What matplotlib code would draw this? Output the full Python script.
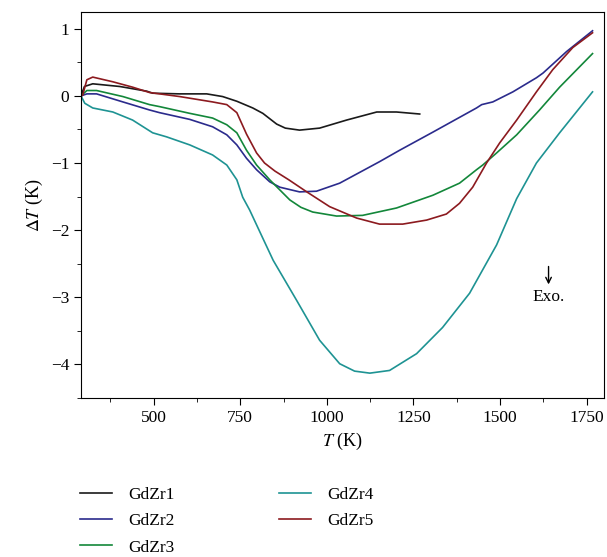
import matplotlib.pyplot as plt
from matplotlib.ticker import MultipleLocator

plt.rcParams['font.family'] = ['Liberation Serif', 'DejaVu Serif']
plt.rcParams['mathtext.fontset'] = 'stix'

# DTA curves: temperature (K) and Delta T (K)
t1 = [290, 300, 324, 402, 480, 497, 575, 653, 699, 740, 786, 815, 835, 855, 880, 921, 979, 1057, 1144,
      1201, 1268]
d1 = [0.0, 0.14, 0.18, 0.14, 0.07, 0.04, 0.03, 0.03, -0.01, -0.08, -0.18, -0.26, -0.34, -0.42, -0.48, -0.51,
      -0.48, -0.36, -0.24, -0.24, -0.27]

t2 = [290, 307, 335, 411, 488, 517, 604, 670, 711, 740, 768, 797, 835, 864, 921, 970, 1037, 1152, 1210,
      1306, 1432, 1447, 1479, 1537, 1605, 1624, 1692, 1767]
d2 = [0.0, 0.03, 0.03, -0.09, -0.21, -0.25, -0.35, -0.46, -0.58, -0.73, -0.93, -1.10, -1.28, -1.36, -1.43,
      -1.42, -1.30, -0.98, -0.81, -0.54, -0.18, -0.13, -0.09, 0.06, 0.27, 0.34, 0.66, 0.97]

t3 = [290, 307, 335, 411, 488, 517, 604, 670, 711, 740, 768, 797, 835, 864, 893, 925, 959, 1028, 1103,
      1201, 1306, 1383, 1432, 1450, 1490, 1548, 1614, 1672, 1767]
d3 = [0.0, 0.08, 0.08, -0.01, -0.13, -0.16, -0.26, -0.33, -0.43, -0.55, -0.81, -1.03, -1.25, -1.40, -1.55,
      -1.66, -1.73, -1.79, -1.78, -1.67, -1.48, -1.30, -1.10, -1.03, -0.85, -0.58, -0.21, 0.13, 0.63]

t4 = [290, 301, 324, 382, 439, 497, 537, 604, 670, 711, 740, 757, 777, 815, 845, 912, 979, 1037, 1080,
      1124, 1181, 1259, 1334, 1412, 1490, 1548, 1605, 1672, 1767]
d4 = [0.0, -0.11, -0.18, -0.24, -0.36, -0.55, -0.61, -0.73, -0.88, -1.03, -1.25, -1.51, -1.70, -2.12,
      -2.45, -3.04, -3.64, -3.99, -4.10, -4.13, -4.09, -3.84, -3.45, -2.94, -2.22, -1.53, -1.00, -0.55, 0.06]

t5 = [290, 295, 307, 324, 382, 439, 488, 575, 670, 711, 740, 768, 797, 820, 850, 890, 942, 1008, 1086,
      1152, 1219, 1288, 1345, 1383, 1421, 1461, 1499, 1548, 1605, 1652, 1710, 1767]
d5 = [0.0, 0.01, 0.24, 0.28, 0.21, 0.13, 0.05, -0.01, -0.09, -0.13, -0.25, -0.57, -0.85, -1.0, -1.12,
      -1.25, -1.43, -1.65, -1.82, -1.91, -1.91, -1.85, -1.76, -1.60, -1.36, -1.00, -0.70, -0.36, 0.06, 0.39,
      0.72, 0.94]

labels = ['GdZr1', 'GdZr2', 'GdZr3', 'GdZr4', 'GdZr5']
colors = ['#1a1a1a', '#2b2b8c', '#13873a', '#1e9393', '#8c1a1f']

fig = plt.figure(figsize=(6.07, 5.57), dpi=100)
ax = fig.add_axes([0.1334, 0.2855, 0.8616, 0.693])

for t, d, lab, c in zip([t1, t2, t3, t4, t5], [d1, d2, d3, d4, d5], labels, colors):
    ax.plot(t, d, color=c, lw=1.2, label=lab)

ax.set_xlim(290, 1800)
ax.set_ylim(-4.5, 1.25)
ax.xaxis.set_major_locator(MultipleLocator(250))
ax.xaxis.set_minor_locator(MultipleLocator(125))
ax.yaxis.set_major_locator(MultipleLocator(1))
ax.yaxis.set_minor_locator(MultipleLocator(0.5))
ax.tick_params(which='both', direction='out', labelsize=12.5)
ax.tick_params(which='major', length=5)
ax.tick_params(which='minor', length=3)
ax.set_xlabel(r'$T$ (K)', fontsize=13)
ax.set_ylabel(r'$\Delta T$ (K)', fontsize=13)

ax.annotate('', xy=(1640, -2.85), xytext=(1640, -2.5),
            arrowprops=dict(arrowstyle='->', color='black', lw=1))
ax.text(1640, -3.0, 'Exo.', ha='center', va='center', fontsize=12.5)

fig.legend(loc='upper left', bbox_to_anchor=(73 / 607, 1 - 480 / 557), ncol=2, frameon=False,
           fontsize=12.5, handlelength=1.85, handletextpad=0.95, columnspacing=6.0, labelspacing=0.58,
           borderaxespad=0)

fig.savefig('out.png', dpi=100)
